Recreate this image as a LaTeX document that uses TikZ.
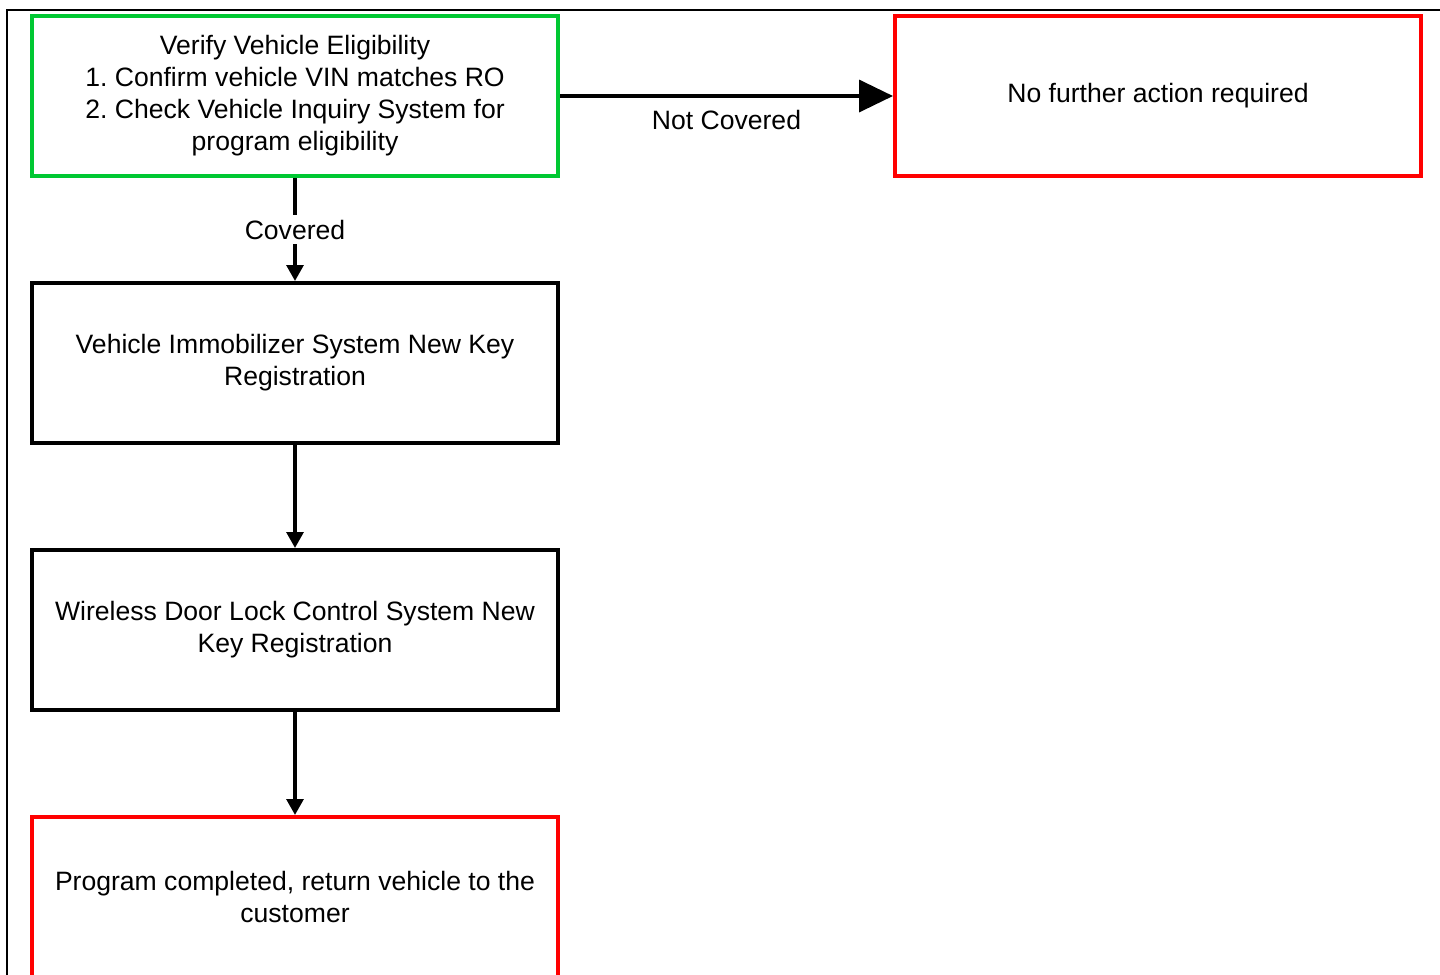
\documentclass[tikz,border=0pt]{standalone}
\usepackage{fontspec}
\setmainfont{Liberation Sans}
\usetikzlibrary{positioning,arrows.meta}
\definecolor{okgreen}{RGB}{0,200,50}
\definecolor{stopred}{RGB}{255,0,0}
\frenchspacing

\begin{document}
\begin{tikzpicture}[-{Triangle[length=0.4cm,width=0.42cm]}, node distance=2.575cm, line width=0.09cm,
    box/.style={draw, line width=0.1cm, minimum width=13.15cm, minimum height=4cm, align=center, font=\fontsize{18.9}{22.8}\selectfont},
    lbl/.style={font=\fontsize{18.9}{22.8}\selectfont}]
    \useasboundingbox (0,0) rectangle (36,-24.35);
    \draw[-, line width=0.05cm] (0.175,-24.6) |- (36.6,-0.25);
    \node (ver) [box, draw=okgreen] at (7.375,-2.4) {Verify Vehicle Eligibility\\ 1. Confirm vehicle VIN matches RO\\ 2. Check Vehicle Inquiry System for\\ program eligibility};
    \node (nocov) [box, draw=stopred, right=8.325cm of ver] {No further action required};
    \node (imm) [box, below=of ver] {Vehicle Immobilizer System New Key\\ Registration};
    \node (dlk) [box, below=of imm] {Wireless Door Lock Control System New\\ Key Registration};
    \node (done) [box, draw=stopred, below=of dlk] {Program completed, return vehicle to the\\ customer};
    \path
    (ver) edge[-{Triangle[length=0.85cm,width=0.8cm]}] node[lbl, below=0.2cm] {Not Covered} (nocov)
    (ver) edge node[lbl, fill=white] {Covered} (imm)
    (imm) edge (dlk)
    (dlk) edge (done)
    ;
\end{tikzpicture}
\end{document}
